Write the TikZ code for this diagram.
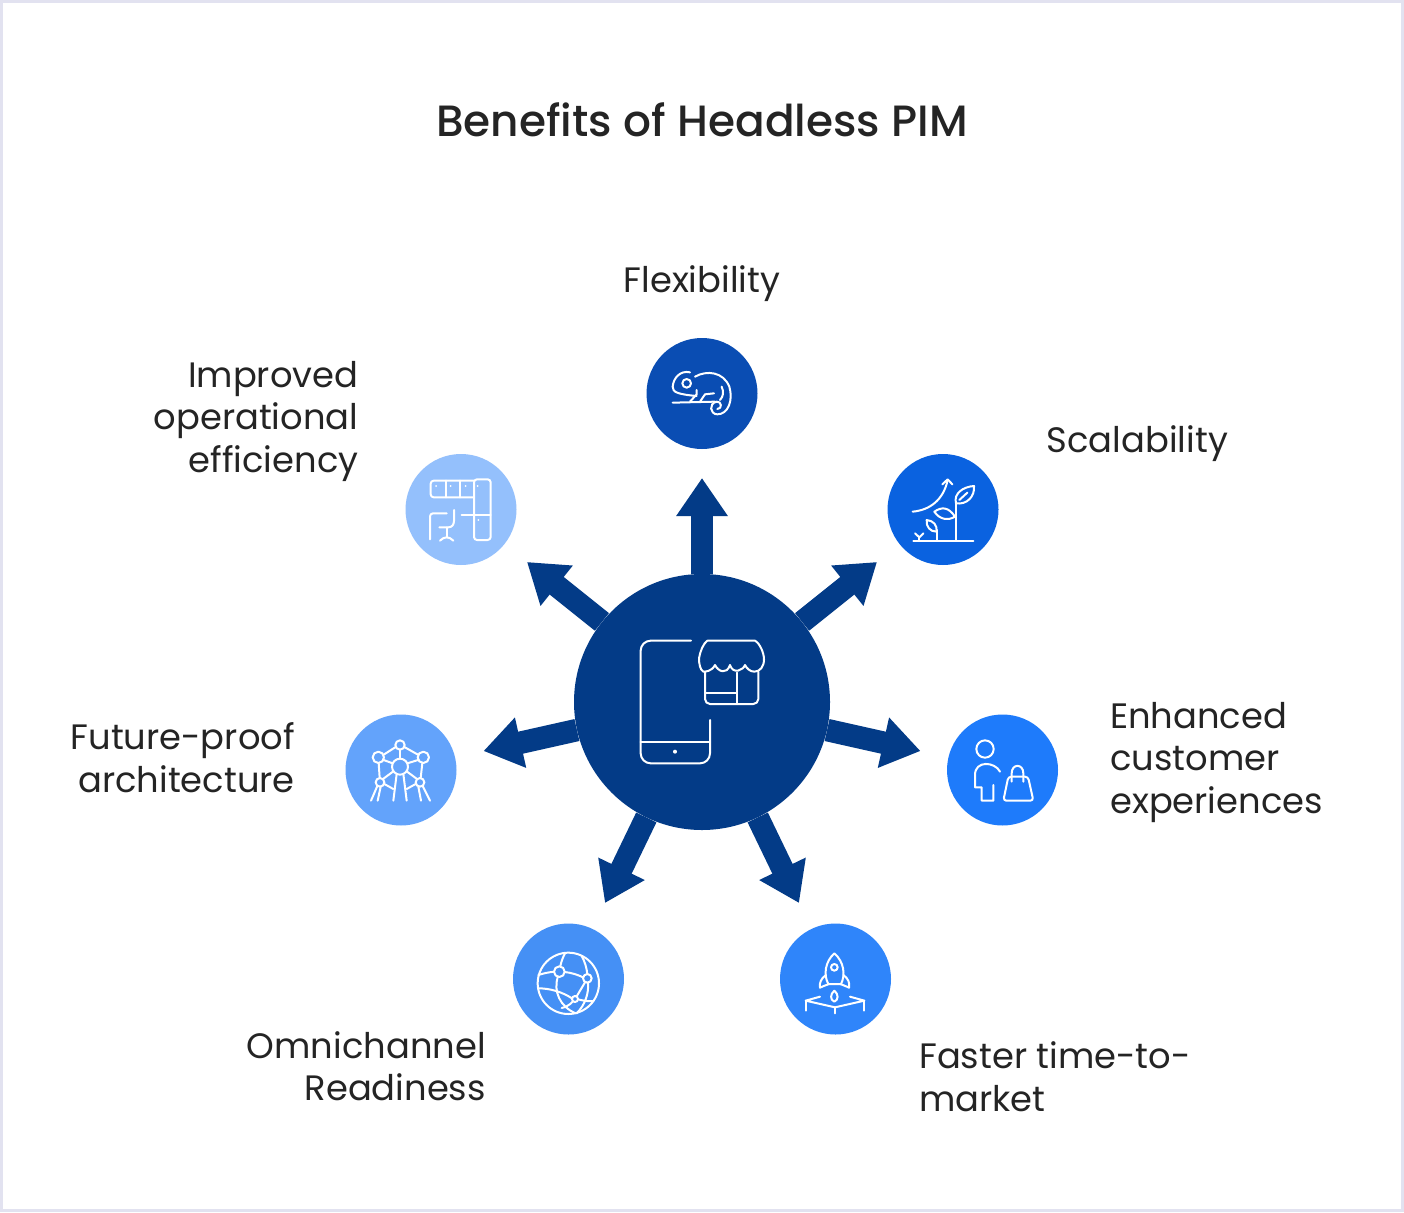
\documentclass[tikz,border=0pt]{standalone}
\usepackage{fontspec}
\setmainfont{Poppins}
\newfontfamily\titlefont{Poppins Medium}
\usetikzlibrary{arrows.meta}
\definecolor{ink}{HTML}{242424}
\definecolor{edgeband}{HTML}{E2E2F0}
\definecolor{hubblue}{HTML}{033B87}
\definecolor{cA}{HTML}{0A4DB3}
\definecolor{cB}{HTML}{0A62E0}
\definecolor{cC}{HTML}{1E7BFB}
\definecolor{cD}{HTML}{2F85FA}
\definecolor{cE}{HTML}{4590F5}
\definecolor{cF}{HTML}{63A3FB}
\definecolor{cG}{HTML}{94C0FC}
\tikzset{
  badge/.style={circle,draw=none,inner sep=0pt,minimum size=111pt,fill=#1},
  hubdisc/.style={circle,draw=none,inner sep=0pt,minimum size=256pt,fill=hubblue},
  spoke/.style={draw=hubblue,line width=22.5pt,-{Triangle[length=38pt,width=49pt]}},
  lbl/.style={inner sep=0pt,text=ink,font=\fontsize{35.3}{42.5}\selectfont},
  lblL/.style={lbl,align=left,anchor=north west},
  lblR/.style={lbl,align=right,anchor=north east},
  glyph/.style={draw=white,line width=2pt,line cap=round,line join=round},
  mini/.style={shift={#1},scale=1/3}
}
\begin{document}
\begin{tikzpicture}[x=1pt,y=-1pt]
\useasboundingbox (0,0) rectangle (1404,1212);
\fill[white] (0,0) rectangle (1404,1212);
\draw[edgeband,line width=3pt] (1.5,1.5) rectangle (1402.5,1210.5);
\node[inner sep=0pt,text=ink,font=\titlefont\fontsize{43.8}{50}\selectfont] (title) at (702,120) {Benefits of Headless PIM};

\node[hubdisc] (hub) at (702,702) {};
\node[badge=cA] (n1) at (702,393.5) {};
\node[badge=cB] (n2) at (943,509.5) {};
\node[badge=cC] (n3) at (1002.5,770) {};
\node[badge=cD] (n4) at (835.5,979) {};
\node[badge=cE] (n5) at (568.5,979) {};
\node[badge=cF] (n6) at (401,770) {};
\node[badge=cG] (n7) at (461,509.5) {};
\coordinate (a1) at (702,478);
\coordinate (a2) at (877,562);
\coordinate (a3) at (920.5,751);
\coordinate (a4) at (799,903);
\coordinate (a5) at (605,903);
\coordinate (a6) at (483.5,751);
\coordinate (a7) at (527,562);
\foreach \t in {a1,a2,a3,a4,a5,a6,a7} \draw[spoke] (hub) -- (\t);

\node[lbl,anchor=north] (t1) at (702,265) {Flexibility};
\node[lblL] (t2) at (1046.5,425) {Scalability};
\node[lblL] (t3) at (1110,702) {Enhanced\\customer\\experiences};
\node[lblL] (t4) at (919,1041.5) {Faster time-to-\\market};
\node[lblR] (t5) at (486,1031) {Omnichannel\\Readiness};
\node[lblR] (t6) at (295,722.5) {Future-proof\\architecture};
\node[lblR] (t7) at (358.5,361) {Improved\\operational\\efficiency};

% hub icon
\begin{scope}[mini={(620,620)},glyph]
\draw[rounded corners=10pt] (213,62) -- (62,62) -- (62,430) -- (270,430) -- (270,300);
\draw (62,365) -- (270,365);
\fill[white] (165,395) circle (6);
\draw (262,62) -- (405,62) .. controls (420,70) and (432,100) .. (432,118) .. controls (432,140) and (420,155) .. (403,155) .. controls (390,155) and (380,145) .. (375,135) .. controls (370,150) and (340,165) .. (330,135) .. controls (320,165) and (295,155) .. (285,135) .. controls (275,155) and (255,155) .. (250,155) .. controls (240,150) and (237,130) .. (237,115) .. controls (240,95) and (250,70) .. (262,62);
\draw[rounded corners=5pt] (255,155) -- (255,252) -- (415,252) -- (415,155);
\draw (255,220) -- (350,220);
\draw (350,158) -- (350,252);
\end{scope}

% chameleon
\begin{scope}[mini={(640,335)},glyph]
\draw (98,203) -- (225,200);
\draw (150,112) .. controls (120,105) and (100,130) .. (98,155) .. controls (97,172) and (115,178) .. (170,183);
\draw (140,145) circle (13);
\draw (165,125) .. controls (200,105) and (250,110) .. (268,155) .. controls (280,195) and (265,238) .. (232,238) .. controls (210,238) and (205,205) .. (230,200) .. controls (245,198) and (248,222) .. (232,222);
\draw (150,200) -- (170,178) -- (170,165);
\draw (180,200) -- (195,178) -- (222,175);
\draw (245,155) .. controls (252,170) and (250,185) .. (240,195);
\end{scope}

% plant
\begin{scope}[mini={(880,450)},glyph]
\draw (98,185) .. controls (150,180) and (190,150) .. (203,90);
\draw (187,103) -- (203,88) -- (217,103);
\draw (100,272) -- (280,272);
\draw (228,272) -- (228,160);
\draw (228,160) .. controls (220,130) and (250,110) .. (282,108) .. controls (285,140) and (260,165) .. (228,160);
\draw (238,150) -- (262,128);
\draw (225,200) .. controls (205,170) and (185,170) .. (163,185) .. controls (180,210) and (205,212) .. (225,200);
\draw (170,272) -- (170,240);
\draw (170,245) .. controls (172,225) and (160,212) .. (140,210) .. controls (138,230) and (150,245) .. (170,245);
\draw (118,272) -- (118,262);
\draw (105,250) -- (118,262) -- (130,250);
\end{scope}

% office
\begin{scope}[mini={(400,450)},glyph]
\draw[rounded corners=3pt] (222,92) -- (92,92) -- (92,142) -- (222,142);
\draw (137,92) -- (137,142);
\draw (180,92) -- (180,142);
\draw[rounded corners=3pt] (222,88) rectangle (272,270);
\draw (222,195) -- (272,195);
\draw (185,195) -- (222,195);
\foreach \p in {(108,108),(152,108),(197,108),(233,108),(235,210)} \fill[white] \p circle (3);
\draw[rounded corners=3pt] (90,268) -- (90,190) -- (140,190);
\draw (162,180) -- (162,212) .. controls (162,225) and (155,232) .. (145,232) -- (118,232);
\draw (140,232) -- (140,262);
\draw (120,272) .. controls (125,265) and (135,262) .. (140,262) .. controls (145,262) and (155,265) .. (160,272);
\end{scope}

% atomium
\begin{scope}[mini={(340,710)},glyph]
\draw (180,105) circle (14);
\draw (115,142) circle (17);
\draw (250,142) circle (17);
\draw (180,170) circle (24);
\draw (120,217) circle (13);
\draw (240,217) circle (13);
\draw (167,111) -- (131,134);
\draw (193,111) -- (234,134);
\draw (131,150) -- (158,160);
\draw (234,150) -- (202,160);
\draw (129,207) -- (160,184);
\draw (231,207) -- (200,184);
\draw (116,159) -- (119,204);
\draw (247,159) -- (242,204);
\draw (180,119) -- (180,146);
\draw (112,228) -- (93,272);
\draw (122,230) -- (113,272);
\draw (133,222) -- (160,237);
\draw (170,192) -- (160,272);
\draw (190,192) -- (200,272);
\draw (227,222) -- (200,237);
\draw (235,230) -- (243,272);
\draw (248,228) -- (270,272);
\end{scope}

% person and bag
\begin{scope}[mini={(940,710)},glyph]
\draw (135,117) circle (26);
\draw (180,185) .. controls (165,155) and (105,150) .. (105,195) -- (105,232) -- (125,232) -- (125,272) -- (160,272) -- (160,225);
\draw[rounded corners=3pt] (205,200) -- (264,200) -- (280,272) -- (190,272) -- cycle;
\draw (215,215) -- (215,190) .. controls (215,160) and (250,160) .. (250,190) -- (250,215);
\end{scope}

% globe
\begin{scope}[mini={(505,920)},glyph]
\draw (190,190) circle (92);
\draw (163,155) circle (16);
\draw (247,175) circle (13);
\draw (210,237) circle (9);
\draw (179,156) .. controls (200,158) and (220,165) .. (234,172);
\draw (180,100) .. controls (172,115) and (168,128) .. (166,139);
\draw (158,171) .. controls (145,215) and (165,260) .. (212,280);
\draw (230,108) .. controls (240,125) and (245,145) .. (247,162);
\draw (249,188) .. controls (252,220) and (240,255) .. (215,280);
\draw (100,165) .. controls (115,160) and (130,157) .. (147,155);
\draw (100,205) .. controls (135,205) and (170,215) .. (201,235);
\draw (215,229) -- (240,187);
\draw (219,238) .. controls (235,242) and (250,245) .. (265,243);
\draw (170,264) .. controls (180,262) and (195,255) .. (204,244);
\end{scope}

% rocket
\begin{scope}[mini={(775,920)},glyph]
\draw (178,100) .. controls (150,125) and (145,165) .. (160,192) -- (198,192) .. controls (212,165) and (207,125) .. (178,100);
\draw (178,142) circle (10);
\draw (153,165) .. controls (138,175) and (132,190) .. (135,203) .. controls (145,198) and (155,195) .. (162,192);
\draw (205,165) .. controls (220,175) and (225,190) .. (222,203) .. controls (212,198) and (203,195) .. (196,192);
\draw (178,212) .. controls (165,222) and (165,240) .. (178,245) .. controls (191,240) and (191,222) .. (178,212);
\draw (135,230) -- (92,242) -- (180,262) -- (268,242) -- (225,230);
\draw (92,242) -- (92,272);
\draw (268,242) -- (268,272);
\draw (180,262) -- (180,280);
\end{scope}
\end{tikzpicture}
\end{document}
